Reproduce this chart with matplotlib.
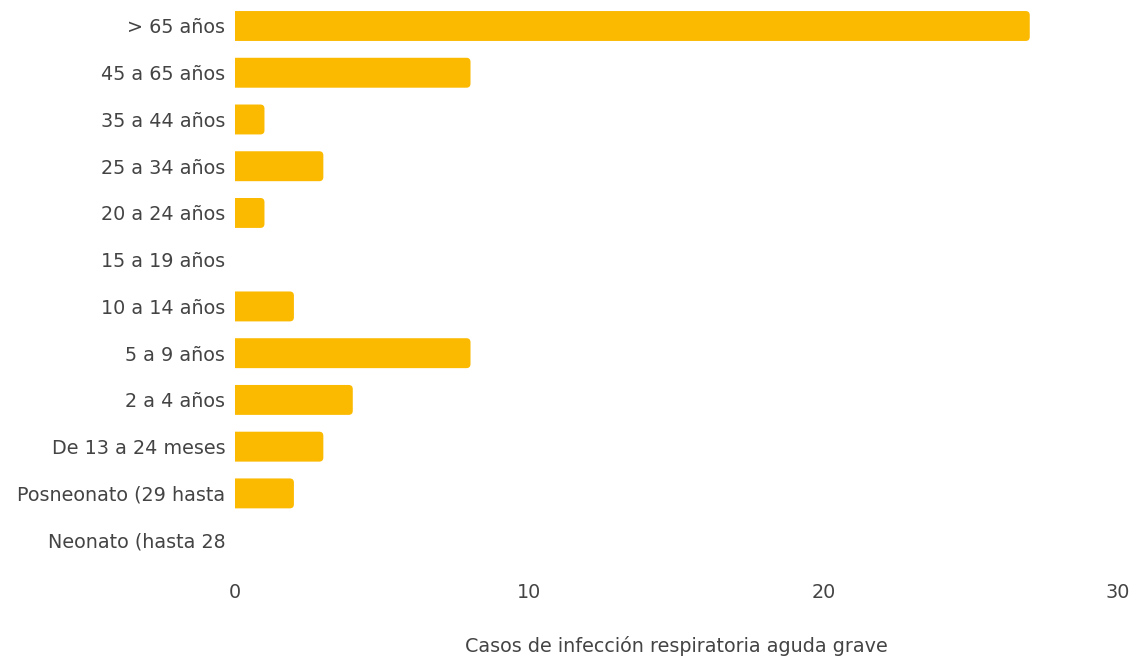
import matplotlib
matplotlib.use("Agg")
import matplotlib.pyplot as plt
from matplotlib.patches import FancyBboxPatch
import numpy as np

categorias = ["> 65 años", "45 a 65 años", "35 a 44 años", "25 a 34 años",
              "20 a 24 años", "15 a 19 años", "10 a 14 años", "5 a 9 años",
              "2 a 4 años", "De 13 a 24 meses", "Posneonato (29 hasta",
              "Neonato (hasta 28"]
casos = [27, 8, 1, 3, 1, 0, 2, 8, 4, 3, 2, 0]
ticks_x = [0, 10, 20, 30]

plt.rcParams["font.family"] = ["DejaVu Sans"]
cor_texto = "#444444"
cor_barra = "#FBB900"
tam = 13.8

fig = plt.figure(figsize=(11.36, 6.57), dpi=100)
ax = fig.add_axes([0.2069, 0.1423, 0.7773, 0.8537])

y = np.arange(len(categorias))
barras = ax.barh(y, casos, height=0.64, color=cor_barra)

# cantos arredondados só à direita: o lado esquerdo fica cortado pelo eixo
for b in barras:
    if b.get_width() <= 0:
        continue
    x0, y0 = b.get_x(), b.get_y()
    w, h = b.get_width(), b.get_height()
    r = 0.14
    p = FancyBboxPatch((x0 - 2 * r, y0), w + 2 * r, h,
                       boxstyle=f"round,pad=0,rounding_size={r}",
                       mutation_aspect=0.63, facecolor=cor_barra,
                       edgecolor="none", clip_on=True)
    ax.add_patch(p)
    p.set_clip_path(ax.patch)
    b.set_visible(False)

ax.set_xlim(0, 30)
ax.set_ylim(len(categorias) - 0.5, -0.5)
ax.set_yticks(y)
ax.set_yticklabels(categorias)
ax.set_xticks(ticks_x)
ax.tick_params(axis="both", length=0, labelsize=tam, colors=cor_texto)
ax.tick_params(axis="y", pad=7)
ax.tick_params(axis="x", pad=14)
ax.set_xlabel("Casos de infección respiratoria aguda grave", fontsize=tam,
              color=cor_texto, labelpad=24.5)
for s in ax.spines.values():
    s.set_visible(False)

fig.savefig("out.png", dpi=100)
